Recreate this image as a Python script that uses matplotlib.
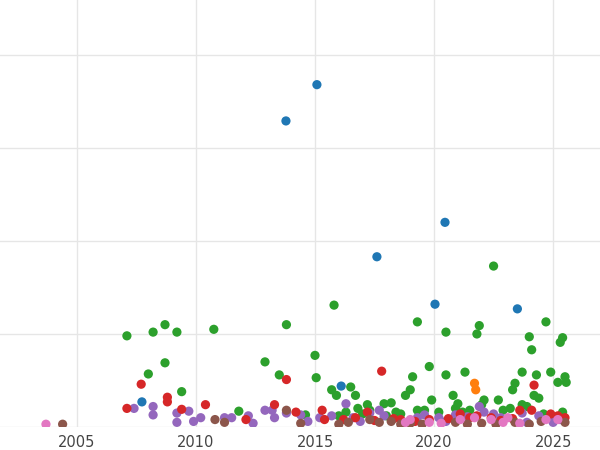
import matplotlib
matplotlib.use("Agg")
import matplotlib.pyplot as plt

blue_x = [2013.78, 2015.08, 2020.46, 2017.6, 2020.04, 2023.5, 2016.1, 2007.73]
blue_y = [3.29, 3.68, 2.20, 1.83, 1.32, 1.27, 0.44, 0.27]
orange_x = [2021.7, 2021.75]
orange_y = [0.47, 0.40]
green_x = [2007.1, 2008.2, 2008.7, 2009.2, 2008.7, 2008.0, 2009.4, 2010.75, 2012.9, 2013.8, 2013.5, 2015.0, 2015.05,
           2015.8, 2015.7, 2015.9, 2016.5, 2016.7, 2016.8, 2017.2, 2017.3, 2017.9, 2018.2, 2018.8, 2019.0, 2019.1,
           2019.3, 2019.6, 2019.8, 2019.9, 2020.5, 2020.5, 2020.8, 2021.0, 2021.3, 2021.8, 2021.9, 2022.1, 2022.5,
           2022.7, 2023.3, 2023.4, 2023.7, 2024.0, 2024.1, 2024.2, 2024.3, 2024.7, 2024.9, 2025.3, 2025.4, 2025.2,
           2025.5, 2025.55, 2023.7, 2024.4, 2023.2, 2021.5, 2020.2, 2018.4, 2016.3, 2014.6, 2011.8, 2022.0, 2019.3,
           2016.0, 2017.0, 2018.0, 2018.6, 2020.9, 2021.2, 2022.9, 2023.9, 2024.6, 2025.4]
green_y = [0.98, 1.02, 1.10, 1.02, 0.69, 0.57, 0.38, 1.05, 0.70, 1.10, 0.56, 0.77, 0.53,
           1.31, 0.40, 0.34, 0.43, 0.34, 0.20, 0.24, 0.18, 0.25, 0.26, 0.34, 0.40, 0.54,
           1.13, 0.18, 0.65, 0.29, 1.02, 0.56, 0.34, 0.25, 0.59, 1.00, 1.09, 0.29, 1.73,
           0.29, 0.40, 0.47, 0.59, 0.97, 0.83, 0.34, 0.56, 1.13, 0.59, 0.91, 0.96, 0.48,
           0.54, 0.48, 0.24, 0.31, 0.20, 0.18, 0.16, 0.16, 0.16, 0.13, 0.17, 0.24, 0.18,
           0.12, 0.14, 0.12, 0.14, 0.20, 0.16, 0.18, 0.22, 0.14, 0.16]
red_x = [2007.7, 2007.1, 2008.8, 2008.8, 2009.4, 2010.4, 2012.1, 2013.3, 2013.8, 2014.2, 2015.3, 2015.4, 2017.8,
         2017.2, 2016.7, 2018.6, 2021.1, 2024.2, 2023.6, 2024.1, 2024.9, 2025.5, 2022.4, 2019.8, 2021.5,
         2016.2, 2017.5, 2018.3, 2019.2, 2020.6, 2021.8, 2022.8, 2023.3, 2025.2]
red_y = [0.46, 0.20, 0.32, 0.27, 0.19, 0.24, 0.08, 0.24, 0.51, 0.16, 0.18, 0.08, 0.60,
         0.16, 0.10, 0.08, 0.14, 0.45, 0.18, 0.18, 0.14, 0.10, 0.10, 0.08, 0.10,
         0.08, 0.07, 0.09, 0.06, 0.09, 0.12, 0.07, 0.09, 0.12]
purple_x = [2007.4, 2008.2, 2008.2, 2009.2, 2009.7, 2009.2, 2009.9, 2010.2, 2011.2, 2011.5, 2012.2, 2012.4, 2012.9,
            2013.2, 2013.3, 2013.8, 2014.4, 2016.3, 2017.3, 2017.7, 2021.9, 2022.1, 2020.9, 2023.7, 2024.9, 2022.8,
            2019.3, 2020.2, 2015.2, 2016.6, 2025.3, 2016.9, 2017.9, 2018.7, 2019.6, 2020.5, 2021.4, 2022.5, 2023.9,
            2024.4, 2025.0, 2015.7, 2014.7]
purple_y = [0.20, 0.22, 0.13, 0.15, 0.17, 0.05, 0.06, 0.10, 0.10, 0.10, 0.12, 0.04, 0.18,
            0.18, 0.10, 0.15, 0.13, 0.25, 0.15, 0.18, 0.22, 0.16, 0.13, 0.15, 0.10, 0.10,
            0.10, 0.10, 0.10, 0.10, 0.08, 0.06, 0.12, 0.05, 0.13, 0.06, 0.11, 0.14, 0.05,
            0.12, 0.05, 0.12, 0.06]
brown_x = [2004.4, 2010.8, 2011.2, 2014.4, 2013.8, 2016.4, 2017.3, 2017.7, 2018.2, 2019.0, 2020.9, 2022.0, 2023.4,
           2024.5, 2025.5, 2016.0, 2018.6, 2019.5, 2021.4, 2022.6, 2024.0]
brown_y = [0.03, 0.08, 0.05, 0.04, 0.18, 0.05, 0.08, 0.05, 0.06, 0.04, 0.05, 0.04, 0.05, 0.06, 0.05,
           0.03, 0.03, 0.03, 0.03, 0.03, 0.03]
pink_x = [2003.7, 2018.8, 2019.8, 2021.1, 2021.7, 2022.4, 2023.1, 2023.6, 2024.7, 2025.2, 2019.0, 2020.3, 2022.9]
pink_y = [0.03, 0.05, 0.05, 0.08, 0.10, 0.08, 0.10, 0.04, 0.08, 0.08, 0.08, 0.04, 0.05]

series = [
    (green_x, green_y, "#2ca02c"),
    (purple_x, purple_y, "#9467bd"),
    (red_x, red_y, "#d62728"),
    (brown_x, brown_y, "#8c564b"),
    (pink_x, pink_y, "#e377c2"),
    (orange_x, orange_y, "#ff7f0e"),
    (blue_x, blue_y, "#1f77b4"),
]

fig = plt.figure(figsize=(6, 4.5), dpi=100)
ax = fig.add_axes([0, 23 / 450, 1, 427 / 450])
for xs, ys, c in series:
    ax.scatter(xs, ys, s=44, color=c, edgecolors="none", zorder=3)

ax.set_xlim(2001.77, 2026.97)
ax.set_ylim(0, 4.59)
ax.set_xticks([2005, 2010, 2015, 2020, 2025])
ax.set_yticks([0, 1, 2, 3, 4])
ax.set_yticklabels([])
ax.grid(True, color="#e6e6e6", linewidth=1, zorder=0)
ax.tick_params(length=0, labelsize=10.5, labelcolor="#444444", pad=6)
for s in ax.spines.values():
    s.set_visible(False)
fig.savefig("out.png", dpi=100)
